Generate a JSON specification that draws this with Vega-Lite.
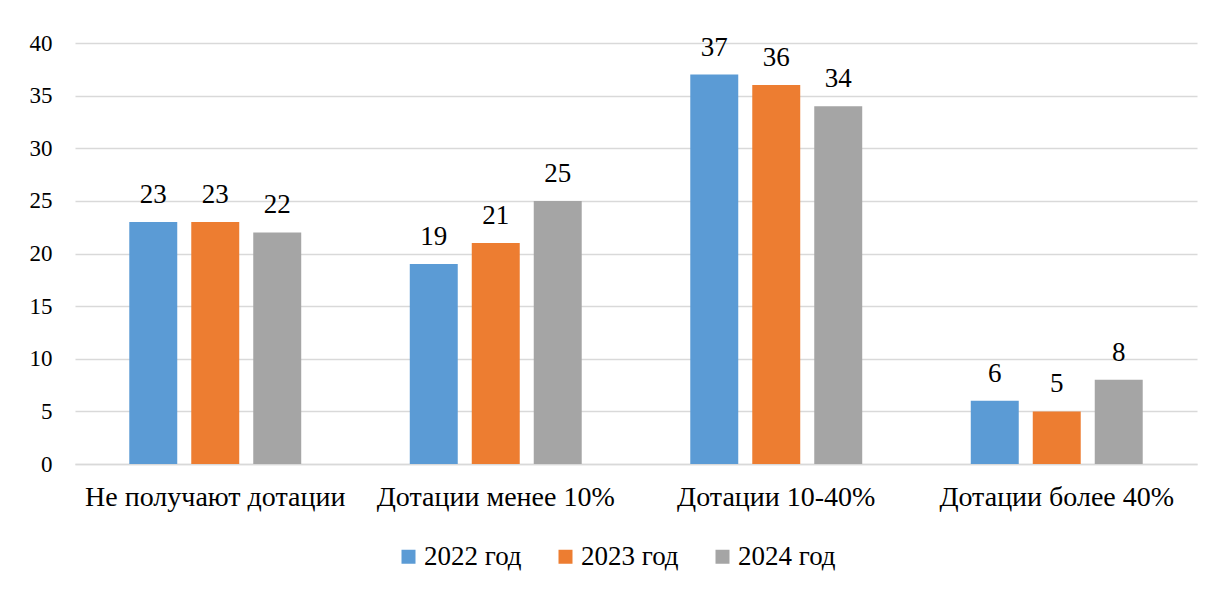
{
  "$schema": "https://vega.github.io/schema/vega-lite/v6.json",
  "autosize": {"type": "none"},
  "width": 1122,
  "height": 421,
  "padding": {"left": 75, "top": 43, "right": 15, "bottom": 125},
  "background": "white",
  "config": {
    "font": "Liberation Serif",
    "view": {"stroke": null}
  },
  "data": {
    "values": [
      {"cat": "Не получают дотации", "year": "2022 год", "v": 23},
      {"cat": "Не получают дотации", "year": "2023 год", "v": 23},
      {"cat": "Не получают дотации", "year": "2024 год", "v": 22},
      {"cat": "Дотации менее 10%", "year": "2022 год", "v": 19},
      {"cat": "Дотации менее 10%", "year": "2023 год", "v": 21},
      {"cat": "Дотации менее 10%", "year": "2024 год", "v": 25},
      {"cat": "Дотации 10-40%", "year": "2022 год", "v": 37},
      {"cat": "Дотации 10-40%", "year": "2023 год", "v": 36},
      {"cat": "Дотации 10-40%", "year": "2024 год", "v": 34},
      {"cat": "Дотации более 40%", "year": "2022 год", "v": 6},
      {"cat": "Дотации более 40%", "year": "2023 год", "v": 5},
      {"cat": "Дотации более 40%", "year": "2024 год", "v": 8}
    ]
  },
  "encoding": {
    "x": {
      "field": "cat", "type": "nominal", "sort": null, "title": null,
      "scale": {"paddingInner": 0.387, "paddingOuter": 0.1935},
      "axis": {"labelAngle": 0, "labelFontSize": 28, "labelLimit": 0, "labelColor": "#000000", "labelPadding": 19, "ticks": false, "domainColor": "#d9d9d9", "domainWidth": 1.5, "labelFont": "Liberation Serif"}
    },
    "xOffset": {"field": "year", "type": "nominal", "scale": {"paddingInner": 0.226, "paddingOuter": 0}},
    "y": {
      "field": "v", "type": "quantitative", "title": null,
      "scale": {"domain": [0, 40], "nice": false},
      "axis": {"values": [0, 5, 10, 15, 20, 25, 30, 35, 40], "labelFontSize": 23, "labelColor": "#000000", "labelPadding": 23, "ticks": false, "domain": false, "gridColor": "#d9d9d9", "gridWidth": 1.5, "labelFont": "Liberation Serif"}
    }
  },
  "layer": [
    {
      "mark": {"type": "bar"},
      "encoding": {
        "color": {
          "field": "year", "type": "nominal", "title": null,
          "scale": {"domain": ["2022 год", "2023 год", "2024 год"], "range": ["#5B9BD5", "#ED7D31", "#A5A5A5"]},
          "legend": {"orient": "none", "legendX": 320, "legendY": 500, "padding": 0, "direction": "horizontal", "symbolType": "square", "symbolSize": 196, "symbolStrokeWidth": 0, "symbolOpacity": 1, "labelFontSize": 27, "labelLimit": 0, "labelColor": "#000000", "labelOffset": 2, "columnPadding": 30, "labelFont": "Liberation Serif"}
        }
      }
    },
    {
      "mark": {"type": "text", "baseline": "alphabetic", "dy": -19, "fontSize": 27, "color": "#000000", "font": "Liberation Serif"},
      "encoding": {"text": {"field": "v", "type": "quantitative"}}
    }
  ]
}
